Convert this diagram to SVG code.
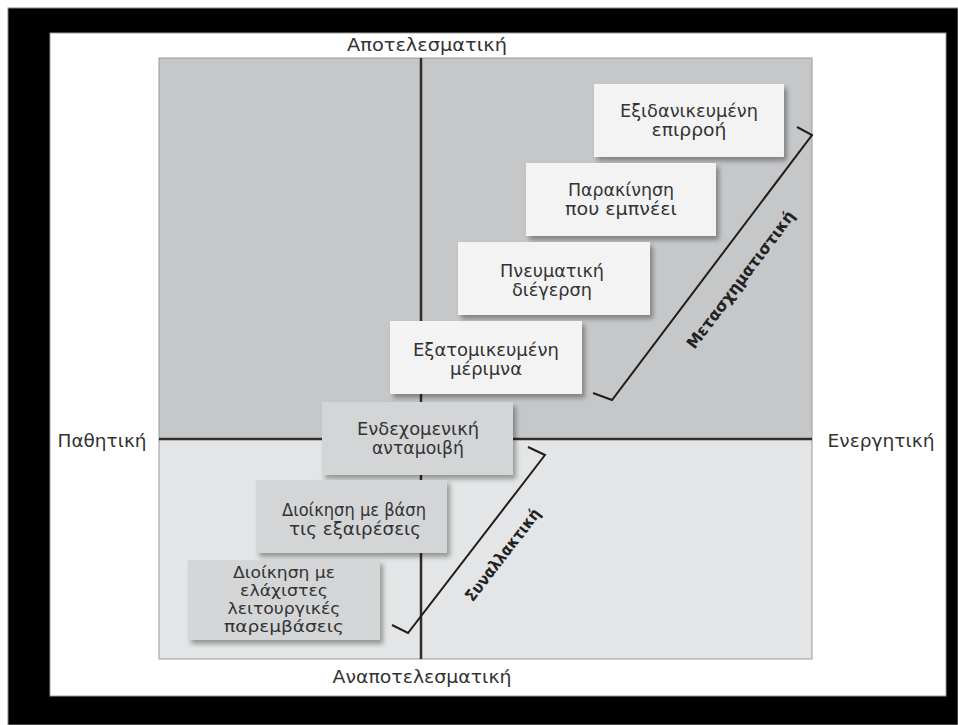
<svg xmlns="http://www.w3.org/2000/svg" width="958" height="725" viewBox="0 0 958 725">
<defs>
<filter id="sh" x="-10%" y="-10%" width="125%" height="130%">
<feDropShadow dx="3" dy="4" stdDeviation="2.5" flood-color="#000" flood-opacity="0.35"/>
</filter>
</defs>
<style>
text{font-family:"DejaVu Sans","Liberation Sans",sans-serif;font-size:17px;fill:#333;text-anchor:middle}
.ax{font-size:17px}
.sm{font-size:16px}
.br{font-weight:bold;font-size:16px;fill:#222}
.up{fill:#f3f3f4;filter:url(#sh)}
.lo{fill:#d4d5d7;filter:url(#sh)}
.axis{stroke:#2e2e2e;stroke-width:2.5;fill:none}
.brk{stroke:#1e1e1e;stroke-width:2;fill:none;stroke-linejoin:miter}
</style>
<rect x="0" y="0" width="958" height="725" fill="#fff"/>
<rect x="8" y="8" width="950" height="717" fill="#000" stroke="#888" stroke-width="1"/>
<rect x="50" y="33" width="896" height="663" fill="#fff" stroke="#999" stroke-width="1"/>
<g id="quadrant">
<rect x="159" y="58" width="653" height="381" fill="#c6c7c9"/>
<rect x="159" y="439" width="653" height="220" fill="#e4e5e6"/>
<rect x="159" y="58" width="653" height="601" fill="none" stroke="#9a9a9a" stroke-width="1"/>
</g>
<g id="connectors">
<line class="axis" x1="421" y1="58" x2="421" y2="659"/>
<line class="axis" x1="159" y1="439" x2="812" y2="439"/>
<polyline class="brk" points="797,127 812,135 612,400 593,393"/>
<polyline class="brk" points="528,447 545,455 408,633 392,625"/>
</g>
<g id="axis-labels">
<text class="ax" x="427" y="51" textLength="160" lengthAdjust="spacingAndGlyphs">Αποτελεσματική</text>
<text class="ax" x="102" y="447" textLength="89" lengthAdjust="spacingAndGlyphs">Παθητική</text>
<text class="ax" x="881" y="447" textLength="107" lengthAdjust="spacingAndGlyphs">Ενεργητική</text>
<text class="ax" x="422" y="683" textLength="179" lengthAdjust="spacingAndGlyphs">Αναποτελεσματική</text>
</g>
<g id="box1">
<rect class="up" x="594" y="84" width="190" height="73"/>
<text x="689" y="117" textLength="138" lengthAdjust="spacingAndGlyphs">Εξιδανικευμένη</text>
<text x="689" y="136" textLength="75" lengthAdjust="spacingAndGlyphs">επιρροή</text>
</g>
<g id="box2">
<rect class="up" x="526" y="163" width="190" height="73"/>
<text x="621" y="196" textLength="106" lengthAdjust="spacingAndGlyphs">Παρακίνηση</text>
<text x="621" y="215" textLength="112" lengthAdjust="spacingAndGlyphs">που εμπνέει</text>
</g>
<g id="box3">
<rect class="up" x="458" y="242" width="192" height="73"/>
<text x="552" y="277" textLength="104" lengthAdjust="spacingAndGlyphs">Πνευματική</text>
<text x="552" y="296" textLength="80" lengthAdjust="spacingAndGlyphs">διέγερση</text>
</g>
<g id="box4">
<rect class="up" x="390" y="321" width="192" height="73"/>
<text x="486" y="356" textLength="146" lengthAdjust="spacingAndGlyphs">Εξατομικευμένη</text>
<text x="486" y="375" textLength="72" lengthAdjust="spacingAndGlyphs">μέριμνα</text>
</g>
<g id="box5">
<rect class="lo" x="322" y="402" width="191" height="73"/>
<text x="418" y="435" textLength="122" lengthAdjust="spacingAndGlyphs">Ενδεχομενική</text>
<text x="418" y="454" textLength="92" lengthAdjust="spacingAndGlyphs">ανταμοιβή</text>
</g>
<g id="box6">
<rect class="lo" x="256" y="480" width="191" height="73"/>
<text x="354" y="516" textLength="144" lengthAdjust="spacingAndGlyphs">Διοίκηση με βάση</text>
<text x="355" y="535" textLength="132" lengthAdjust="spacingAndGlyphs">τις εξαιρέσεις</text>
</g>
<g id="box7">
<rect class="lo" x="188" y="560" width="192" height="80"/>
<text class="sm" x="284" y="578" textLength="102" lengthAdjust="spacingAndGlyphs">Διοίκηση με</text>
<text class="sm" x="284" y="596" textLength="88" lengthAdjust="spacingAndGlyphs">ελάχιστες</text>
<text class="sm" x="284" y="614" textLength="113" lengthAdjust="spacingAndGlyphs">λειτουργικές</text>
<text class="sm" x="284" y="632" textLength="120" lengthAdjust="spacingAndGlyphs">παρεμβάσεις</text>
</g>
<g id="label-transformational">
<text class="br" transform="translate(741,280) rotate(-53)" x="0" y="5" textLength="168" lengthAdjust="spacingAndGlyphs">Μετασχηματιστική</text>
</g>
<g id="label-transactional">
<text class="br" transform="translate(503,555) rotate(-52.4)" x="0" y="5" textLength="112" lengthAdjust="spacingAndGlyphs">Συναλλακτική</text>
</g>
</svg>
